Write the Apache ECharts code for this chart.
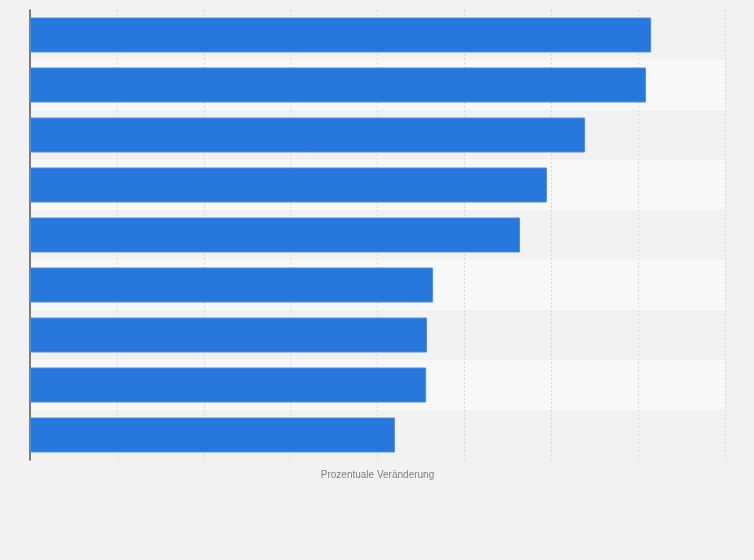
<!DOCTYPE html>
<html>
<head>
<meta charset="utf-8">
<script src="https://cdn.jsdelivr.net/npm/echarts@6/dist/echarts.min.js"></script>
<style>
	html, body { margin: 0; padding: 0; background: #f2f2f2; }
	#chart { width: 754px; height: 560px; }
</style>
</head>
<body>
<div id="chart"></div>
<script>
// Kategorien (Beschriftungen sind im Original ausgeblendet)
var categories = ['Kategorie 1', 'Kategorie 2', 'Kategorie 3', 'Kategorie 4', 'Kategorie 5',
	'Kategorie 6', 'Kategorie 7', 'Kategorie 8', 'Kategorie 9'];
// Prozentuale Veränderung, von oben nach unten
var values = [7.15, 7.09, 6.39, 5.95, 5.64, 4.64, 4.57, 4.56, 4.2];
var axisMax = 8;
var axisStep = 1;

var chart = echarts.init(document.getElementById('chart'));
var option = {
	backgroundColor: '#f2f2f2',
	animation: false,
	grid: {
		left: 30,
		right: 29,
		top: 10,
		bottom: 100
	},
	xAxis: {
		type: 'value',
		min: 0,
		max: axisMax,
		interval: axisStep,
		name: 'Prozentuale Veränderung',
		nameLocation: 'middle',
		nameGap: 10,
		nameTextStyle: {
			color: '#808080',
			fontSize: 10,
			fontFamily: 'Liberation Sans'
		},
		axisLabel: { show: false },
		axisTick: { show: false },
		axisLine: { show: false },
		splitLine: {
			show: true,
			lineStyle: { color: '#d8d8d8', type: [2, 2], width: 1 }
		}
	},
	yAxis: {
		type: 'category',
		data: categories,
		inverse: true,
		axisLabel: { show: false },
		axisTick: { show: false },
		axisLine: {
			show: true,
			lineStyle: { color: '#555555', width: 1.5 }
		},
		splitArea: {
			show: true,
			areaStyle: { color: ['#f2f2f2', '#f8f8f8'] }
		}
	},
	series: [{
		type: 'bar',
		data: values,
		barWidth: '70%',
		itemStyle: {
			color: '#2777dc',
			borderColor: '#4a8ee6',
			borderWidth: 1
		}
	}]
};
chart.setOption(option);
</script>
</body>
</html>
